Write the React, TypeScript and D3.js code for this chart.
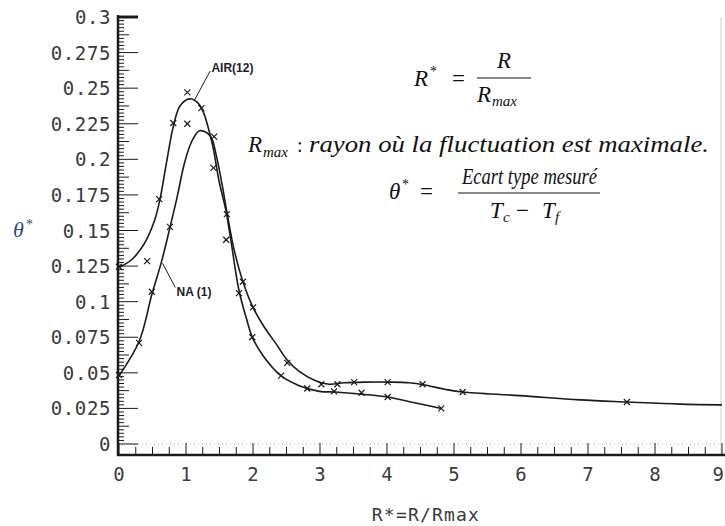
import React from "react";
import * as d3 from "d3";

// ---- Data ----
// Curve labelled AIR(12): starts at 0.125, peaks ~0.242, ends near R*=4.8
const airCurve: [number, number][] = [
  [0, 0.124], [0.2, 0.13], [0.38, 0.141], [0.53, 0.157], [0.62, 0.174],
  [0.71, 0.198], [0.81, 0.223], [0.91, 0.2375], [1.05, 0.2425], [1.17, 0.24],
  [1.26, 0.233], [1.35, 0.219], [1.41, 0.207], [1.49, 0.1855], [1.6, 0.163],
  [1.67, 0.143], [1.79, 0.108], [1.9, 0.0885], [1.99, 0.075], [2.15, 0.062],
  [2.42, 0.0478], [2.69, 0.041], [2.99, 0.037], [3.23, 0.0365], [3.62, 0.035],
  [4.01, 0.033], [4.41, 0.029], [4.81, 0.025],
];
const airMarks: [number, number][] = [
  [0, 0.1245], [0.42, 0.1285], [0.6, 0.172], [0.81, 0.2255], [1.02, 0.247],
  [1.23, 0.236], [1.41, 0.194], [1.6, 0.1435], [1.79, 0.106], [1.99, 0.075],
  [2.42, 0.048], [2.81, 0.039], [3.21, 0.037], [3.62, 0.036], [4.01, 0.033],
  [4.81, 0.025],
];
// Curve labelled NA (1): starts at 0.048, peaks ~0.22, long tail to R*=9
const naCurve: [number, number][] = [
  [0, 0.048], [0.3, 0.072], [0.49, 0.105], [0.64, 0.129], [0.76, 0.152],
  [0.87, 0.174], [0.97, 0.196], [1.08, 0.212], [1.2, 0.22], [1.3, 0.219],
  [1.38, 0.215], [1.46, 0.201], [1.54, 0.182], [1.61, 0.163], [1.72, 0.136],
  [1.85, 0.114], [2.0, 0.096], [2.17, 0.082], [2.35, 0.07], [2.51, 0.059],
  [2.69, 0.051], [2.91, 0.045], [3.14, 0.042], [3.36, 0.043], [3.66, 0.0435],
  [4.04, 0.0435], [4.33, 0.043], [4.56, 0.0415], [4.86, 0.0385], [5.13, 0.0365],
  [5.98, 0.034], [6.88, 0.031], [7.58, 0.0295], [8.37, 0.028], [9.0, 0.0275],
];
const naMarks: [number, number][] = [
  [0, 0.0485], [0.3, 0.071], [0.49, 0.107], [0.76, 0.1525], [1.02, 0.225],
  [1.42, 0.216], [1.61, 0.1615], [1.85, 0.114], [2.0, 0.096], [2.51, 0.057],
  [3.02, 0.042], [3.26, 0.042], [3.51, 0.0435], [4.01, 0.0435], [4.53, 0.042],
  [5.13, 0.0365], [7.58, 0.0295],
];

const xTickValues = [0, 1, 2, 3, 4, 5, 6, 7, 8, 9];
const xTickLabels = ["0", "1", "2", "3", "4", "5", "6", "7", "8", "9"];
const yTickValues = [0.3, 0.275, 0.25, 0.225, 0.2, 0.175, 0.15, 0.125, 0.1, 0.075, 0.05, 0.025, 0];
const yTickLabels = ["0.3", "0.275", "0.25", "0.225", "0.2", "0.175", "0.15", "0.125", "0.1", "0.075", "0.05", "0.025", "0"];

const xAxisTitle = "R*=R/Rmax";
const yAxisTitle = "θ";
const airLabel = "AIR(12)";
const naLabel = "NA (1)";

export default function App() {
  const W = 725, H = 526;
  const x = d3.scaleLinear().domain([0, 9]).range([119, 722]);
  const y = d3.scaleLinear().domain([0, 0.3]).range([444, 17]);
  const axisLeft = 118;
  const axisBottom = 455;

  const line = d3
    .line<[number, number]>()
    .x((d) => x(d[0]))
    .y((d) => y(d[1]))
    .curve(d3.curveCatmullRom.alpha(0.5));

  const yMinor = d3.range(0, 0.30001, 0.0025);
  const xMinor = d3.range(0, 9.0001, 0.25);

  const tickFont = "'DejaVu Sans Mono', monospace";
  const mathFont = "'Liberation Serif', 'DejaVu Serif', serif";
  const ink = "#1a1a1a";

  const cross = (d: [number, number], i: number, key: string) => {
    const cx = x(d[0]);
    const cy = y(d[1]);
    const s = 3;
    return (
      <g key={key + i} stroke={ink} strokeWidth={1.2}>
        <line x1={cx - s} y1={cy - s} x2={cx + s} y2={cy + s} />
        <line x1={cx - s} y1={cy + s} x2={cx + s} y2={cy - s} />
      </g>
    );
  };

  return (
    <svg
      width={W}
      height={H}
      viewBox={`0 0 ${W} ${H}`}
      style={{ position: "fixed", left: 0, top: 0, background: "#fff" }}
    >
      <rect x={0} y={0} width={W} height={H} fill="#fff" />

      {/* faint right border and zero line */}
      <line x1={721} x2={721} y1={y(0.3)} y2={axisBottom} stroke="#d0d0d0" strokeWidth={1} />
      <line x1={axisLeft} x2={722} y1={y(0)} y2={y(0)} stroke="#aaa" strokeWidth={1} strokeDasharray="1 3" />

      {/* y axis ticks */}
      {yMinor.map((v, i) => {
        const k = Math.round(v / 0.0025);
        const len = k % 10 === 0 ? 20 : k % 5 === 0 ? 11 : 6;
        return (
          <line key={"ym" + i} x1={axisLeft} x2={axisLeft + len} y1={y(v)} y2={y(v)} stroke={ink} strokeWidth={k === 120 ? 3 : 1} />
        );
      })}
      {/* x axis ticks */}
      {xMinor.map((v, i) => {
        const major = Math.abs(v - Math.round(v)) < 1e-6;
        return (
          <line key={"xm" + i} x1={x(v)} x2={x(v)} y1={axisBottom} y2={axisBottom - (major ? 12 : 8)} stroke={ink} strokeWidth={1} />
        );
      })}

      {/* axis lines */}
      <line x1={axisLeft} x2={axisLeft} y1={y(0.3) - 2} y2={axisBottom + 1} stroke={ink} strokeWidth={2.5} />
      <line x1={axisLeft - 1} x2={725} y1={axisBottom} y2={axisBottom} stroke={ink} strokeWidth={2.5} />

      {/* y tick labels */}
      {yTickValues.map((v, i) => (
        <text key={"yl" + i} x={111} y={y(v) + 7} textAnchor="end" fontFamily={tickFont} fontSize={19} letterSpacing={0.6} fill="#3a3a3a">
          {yTickLabels[i]}
        </text>
      ))}
      {/* x tick labels */}
      {xTickValues.map((v, i) => {
        const last = i === xTickValues.length - 1;
        return (
          <text key={"xl" + i} x={last ? 724 : x(v)} y={481} textAnchor={last ? "end" : "middle"} fontFamily={tickFont} fontSize={19} fill="#3a3a3a">
            {xTickLabels[i]}
          </text>
        );
      })}
      <text x={426} y={521} textAnchor="middle" fontFamily={tickFont} fontSize={18} letterSpacing={1.2} fill="#3a3a3a">
        {xAxisTitle}
      </text>

      {/* y axis title */}
      <text x={13} y={237} fontFamily={mathFont} fontStyle="italic" fontSize={22} fill="#2c4a86">
        {yAxisTitle}
      </text>
      <text x={26} y={229} fontFamily={mathFont} fontSize={14} fill="#2c4a86">*</text>

      {/* curves */}
      <path d={line(airCurve) || ""} fill="none" stroke={ink} strokeWidth={1.6} />
      <path d={line(naCurve) || ""} fill="none" stroke={ink} strokeWidth={1.6} />
      {airMarks.map((d, i) => cross(d, i, "am"))}
      {naMarks.map((d, i) => cross(d, i, "nm"))}

      {/* curve annotations */}
      <line x1={x(1.36)} y1={y(0.262)} x2={x(1.12)} y2={y(0.241)} stroke={ink} strokeWidth={1} />
      <text x={x(1.38)} y={y(0.264) + 4} fontFamily="'Liberation Sans', Arial, sans-serif" fontWeight="bold" fontSize={12} fill="#1c1c2c">
        {airLabel}
      </text>
      <line x1={x(0.84)} y1={y(0.11)} x2={x(0.65)} y2={y(0.127)} stroke={ink} strokeWidth={1} />
      <text x={x(0.86)} y={y(0.104)} fontFamily="'Liberation Sans', Arial, sans-serif" fontWeight="bold" fontSize={12} fill="#1c1c2c">
        {naLabel}
      </text>

      {/* formulas */}
      <g fill="#111" fontFamily={mathFont}>
        {/* R* = R / Rmax */}
        <text x={414} y={86} fontSize={23} fontStyle="italic">R</text>
        <text x={430} y={76} fontSize={14}>*</text>
        <text x={452} y={86} fontSize={23}>=</text>
        <text x={504} y={68} fontSize={23} fontStyle="italic" textAnchor="middle">R</text>
        <line x1={477} x2={531} y1={78} y2={78} stroke="#111" strokeWidth={1.1} />
        <text x={477} y={102} fontSize={23} fontStyle="italic">R</text>
        <text x={492} y={106} fontSize={15} fontStyle="italic">max</text>

        {/* Rmax : rayon ... */}
        <text x={248} y={152} fontSize={23} fontStyle="italic">R</text>
        <text x={263} y={157} fontSize={15} fontStyle="italic">max</text>
        <text x={297} y={152} fontSize={20}>:</text>
        <text x={309} y={152} fontSize={23} fontStyle="italic" textLength={400} lengthAdjust="spacingAndGlyphs">
          rayon où la fluctuation est maximale.
        </text>

        {/* theta* = Ecart type mesuré / (Tc - Tf) */}
        <text x={389} y={199} fontSize={23} fontStyle="italic">θ</text>
        <text x={402} y={189} fontSize={14}>*</text>
        <text x={420} y={199} fontSize={23}>=</text>
        <text x={462} y={184} fontSize={23} fontStyle="italic" textLength={135} lengthAdjust="spacingAndGlyphs">
          Ecart type mesuré
        </text>
        <line x1={458} x2={600} y1={193} y2={193} stroke="#111" strokeWidth={1.1} />
        <text x={490} y={218} fontSize={23} fontStyle="italic">T</text>
        <text x={503} y={222} fontSize={15} fontStyle="italic">c</text>
        <text x={516} y={218} fontSize={23}>−</text>
        <text x={542} y={218} fontSize={23} fontStyle="italic">T</text>
        <text x={555} y={222} fontSize={15} fontStyle="italic">f</text>
      </g>
    </svg>
  );
}
